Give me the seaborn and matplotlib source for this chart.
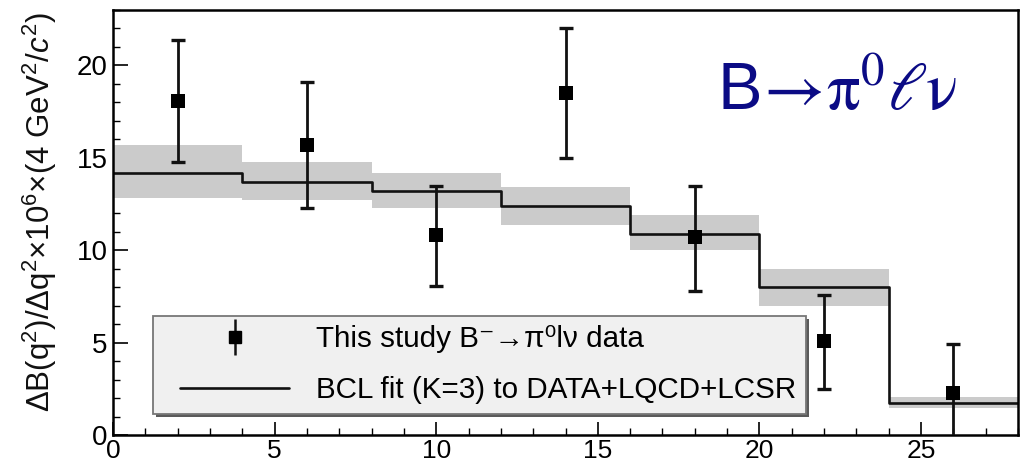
import numpy as np
import matplotlib
matplotlib.use("Agg")
import matplotlib.pyplot as plt
import matplotlib.transforms as mtransforms
import seaborn as sns
from matplotlib.lines import Line2D
from matplotlib.patches import Rectangle
from matplotlib.legend_handler import HandlerTuple
from matplotlib.ticker import MultipleLocator

# ---- data ----
bin_edges = [0, 4, 8, 12, 16, 20, 24, 28]
bin_centers = [2, 6, 10, 14, 18, 22, 26]
data_vals = [18.1, 15.7, 10.8, 18.5, 10.7, 5.1, 2.3]
err_up = [3.25, 3.4, 2.7, 3.5, 2.8, 2.5, 2.6]
err_down = [3.3, 3.4, 2.75, 3.5, 2.9, 2.6, 2.5]
fit_vals = [14.2, 13.7, 13.2, 12.4, 10.9, 8.0, 1.75]
band_low = [12.8, 12.7, 12.3, 11.35, 10.0, 7.0, 1.45]
band_high = [15.7, 14.8, 14.2, 13.4, 11.9, 9.0, 2.05]
x_ticks = [0, 5, 10, 15, 20, 25]
y_ticks = [0, 5, 10, 15, 20]
label_data = "This study B\u207b\u2192\u03c0\u2070l\u03bd data"
label_fit = "BCL fit (K=3) to DATA+LQCD+LCSR"
title_text = r"B$\!\rightarrow\!\mathrm{\pi}^{0}\ell\mathrm{\nu}$"
y_label = r"$\Delta$B(q$^{2}$)/$\Delta$q$^{2}$$\times$10$^{6}$$\times$(4 GeV$^{2}$/$c^{2}$)"

sns.set_theme(style="ticks")
plt.rcParams["font.family"] = ["Liberation Sans", "DejaVu Sans"]
plt.rcParams["mathtext.fontset"] = "custom"
plt.rcParams["mathtext.rm"] = "Liberation Sans"
plt.rcParams["mathtext.it"] = "Liberation Sans:italic"
plt.rcParams["mathtext.bf"] = "Liberation Sans:bold"

fig = plt.figure(figsize=(10.21, 4.62), dpi=100)
ax = fig.add_axes([113 / 1021, 27 / 462, 905 / 1021, 425 / 462])

edges = np.array(bin_edges, dtype=float)
fit_step = np.append(fit_vals, fit_vals[-1])
low_step = np.append(band_low, band_low[-1])
high_step = np.append(band_high, band_high[-1])

ax.fill_between(edges, low_step, high_step, step="post", color="#cbcbcb", lw=0, zorder=1)
sns.lineplot(x=edges, y=fit_step, drawstyle="steps-post", color="#111111", lw=1.9,
             ax=ax, zorder=2, estimator=None, sort=False)

ax.errorbar(bin_centers, data_vals, yerr=[err_down, err_up], fmt="none",
            ecolor="#111111", elinewidth=2.0, capsize=4.8, capthick=2.4, zorder=3)
sns.scatterplot(x=bin_centers, y=data_vals, marker="s", s=110, color="black",
                edgecolor="black", linewidth=0, ax=ax, zorder=4)

ax.set_xlim(0, 28)
ax.set_ylim(0, 23)
ax.set_xticks(x_ticks)
ax.set_yticks(y_ticks)
ax.xaxis.set_minor_locator(MultipleLocator(1))
ax.yaxis.set_minor_locator(MultipleLocator(1))
ax.tick_params(axis="both", which="both", direction="in", top=False, right=False,
               colors="black")
ax.tick_params(axis="x", which="major", length=9.5, width=1.2, labelsize=19, pad=3)
ax.tick_params(axis="y", which="major", length=11, width=1.2, labelsize=20, pad=4)
ax.tick_params(axis="both", which="minor", length=5, width=1.0)
for sp in ax.spines.values():
    sp.set_linewidth(1.8)
    sp.set_color("black")

ax.set_ylabel(y_label, fontsize=22.5, color="#111111")
ax.yaxis.set_label_coords(-0.060, 0.525)
ax.set_xlabel("")

fig.text(717 / 1021, 1 - 110 / 462, title_text, fontsize=48, color="#0b0b85",
         ha="left", va="baseline", math_fontfamily="stix")

# legend frame (ROOT-style box with shadow)
box = dict(xy=((153 - 113) / 905, (435 - 414) / 425), width=(806 - 153) / 905,
           height=(414 - 316) / 425)
shadow_tr = mtransforms.offset_copy(ax.transAxes, fig=fig, x=2.5, y=-2.5, units="dots")
ax.add_patch(Rectangle(**box, transform=shadow_tr, facecolor="#5a5a5a",
                       edgecolor="none", zorder=4.4, clip_on=False))
ax.add_patch(Rectangle(**box, transform=ax.transAxes, facecolor="#f0f0f0",
                       edgecolor="#777777", lw=1.3, zorder=4.5, clip_on=False))

h_marker = Line2D([], [], marker="s", color="black", markersize=9, linestyle="none")
h_bar = Line2D([], [], marker="|", color="#111111", markersize=26, markeredgewidth=1.8,
               linestyle="none")
h_line = Line2D([], [], color="#111111", lw=1.9)
leg = ax.legend([(h_bar, h_marker), h_line], [label_data, label_fit],
                handler_map={tuple: HandlerTuple(ndivide=1)},
                loc="upper left", bbox_to_anchor=((180 - 113) / 905, (435 - 325) / 425),
                fontsize=21.3, frameon=False, borderpad=0, borderaxespad=0,
                labelspacing=0.78, handlelength=3.7, handletextpad=0.9)
for t in leg.get_texts():
    t.set_color("black")
leg.set_zorder(5)

fig.savefig("out.png", dpi=100)
